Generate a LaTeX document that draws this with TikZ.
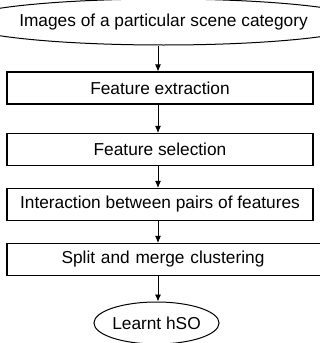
\documentclass[tikz,border=0pt]{standalone}
\usepackage{fontspec}
\setmainfont{Liberation Sans}
\usetikzlibrary{shapes.geometric,arrows.meta}
\begin{document}
\begin{tikzpicture}[x=1pt,y=1pt,
  every node/.style={font=\fontsize{17.3}{20}\selectfont, inner sep=0pt},
  stepbox/.style={draw, line width=1.1pt, rectangle, minimum height=32pt},
  term/.style={draw, line width=1pt, ellipse},
  conn/.style={line width=0.9pt, -{Latex[length=7pt,width=6pt]}}]
\useasboundingbox (0,0) rectangle (320,-343);
\clip (0,0) rectangle (320,-343);
\coordinate (spine) at (158,0);
\node[term, minimum width=314pt, minimum height=46pt] (e1) at (163.5,-22) {Images of a particular scene category};
\node[stepbox, minimum width=306pt] (b1) at (160,-88) {Feature extraction};
\node[stepbox, minimum width=306pt] (b2) at (160,-149.5) {Feature selection};
\node[stepbox, minimum width=306pt] (b3) at (160,-204.5) {Interaction between pairs of features};
\node[stepbox, minimum width=316pt, text width=306pt, align=center] (b4) at (165,-259.5) {\hspace*{-4pt}Split and merge clustering};
\node[term, minimum width=124pt, minimum height=42pt] (e2) at (156.5,-323) {Learnt hSO};
\draw[conn] (e1.south -| spine) -- (b1.north -| spine);
\draw[conn] (b1.south -| spine) -- (b2.north -| spine);
\draw[conn] (b2.south -| spine) -- (b3.north -| spine);
\draw[conn] (b3.south -| spine) -- (b4.north -| spine);
\draw[conn] (b4.south -| spine) -- (e2.north -| spine);
\end{tikzpicture}
\end{document}
